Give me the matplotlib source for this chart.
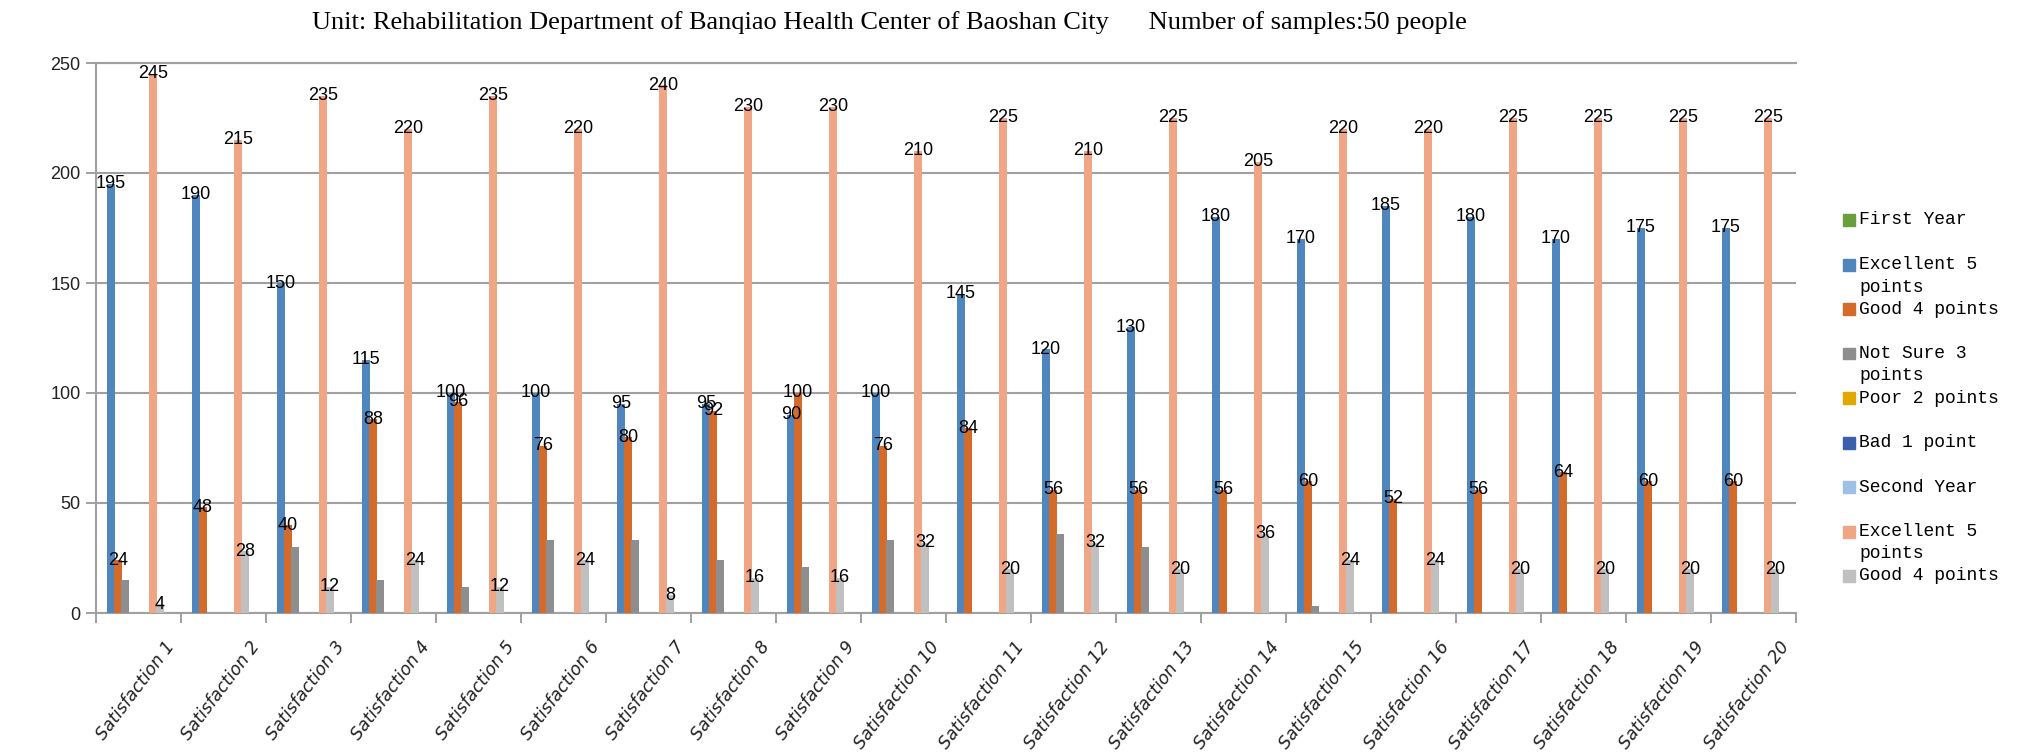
import numpy as np
import matplotlib.pyplot as plt
from matplotlib.patches import Rectangle

# Data
categories = ["Satisfaction 1", "Satisfaction 2", "Satisfaction 3", "Satisfaction 4",
              "Satisfaction 5", "Satisfaction 6", "Satisfaction 7", "Satisfaction 8",
              "Satisfaction 9", "Satisfaction 10", "Satisfaction 11", "Satisfaction 12",
              "Satisfaction 13", "Satisfaction 14", "Satisfaction 15", "Satisfaction 16",
              "Satisfaction 17", "Satisfaction 18", "Satisfaction 19", "Satisfaction 20"]

first_year = [0] * 20
y1_excellent = [195, 190, 150, 115, 100, 100, 95, 95, 90, 100, 145, 120, 130, 180, 170, 185, 180, 170, 175, 175]
y1_good = [24, 48, 40, 88, 96, 76, 80, 92, 100, 76, 84, 56, 56, 56, 60, 52, 56, 64, 60, 60]
y1_not_sure = [15, 0, 30, 15, 12, 33, 33, 24, 21, 33, 0, 36, 30, 0, 3, 0, 0, 0, 0, 0]
y1_poor = [0] * 20
y1_bad = [0] * 20
second_year = [0] * 20
y2_excellent = [245, 215, 235, 220, 235, 220, 240, 230, 230, 210, 225, 210, 225, 205, 220, 220, 225, 225, 225, 225]
y2_good = [4, 28, 12, 24, 12, 24, 8, 16, 16, 32, 20, 32, 20, 36, 24, 24, 20, 20, 20, 20]

series = [first_year, y1_excellent, y1_good, y1_not_sure, y1_poor, y1_bad,
          second_year, y2_excellent, y2_good]
legend_labels = ["First Year", "Excellent 5\npoints", "Good 4 points", "Not Sure 3\npoints",
                 "Poor 2 points", "Bad 1 point", "Second Year", "Excellent 5\npoints", "Good 4 points"]
colors = ["#6a9f3e", "#4f86bd", "#d46b2a", "#8e8e8e", "#e2a800", "#3a5fad",
          "#9dc0e6", "#f0a585", "#c0c0c0"]
labelled = [1, 2, 7, 8]

W, H = 2022, 756
fig = plt.figure(figsize=(W / 100, H / 100), dpi=100)
ax = fig.add_axes([96 / W, 1 - 613 / H, 1700 / W, 550 / H])

x = np.arange(len(categories))
slot = 0.0825
for k, (vals, col) in enumerate(zip(series, colors)):
    pos = x - 0.4075 + slot * k
    ax.bar(pos, vals, width=slot * 1.2, color=col, edgecolor="none", zorder=3)
    if k in labelled:
        for px, v in zip(pos, vals):
            ax.text(px, v, str(v), ha="center", va="center", fontsize=13,
                    family="Liberation Sans", color="black", zorder=5)

ax.set_xlim(-0.5, len(categories) - 0.5)
ax.set_ylim(0, 250)
ax.set_yticks(np.arange(0, 251, 50))
ax.yaxis.grid(True, color="#a0a0a0", lw=1.5, zorder=0)
ax.set_axisbelow(True)

# tick marks on category boundaries, labels as minor ticks
ax.set_xticks(np.arange(-0.5, len(categories)), labels=[])
ax.set_xticks(x + 0.3, minor=True)
ax.set_xticklabels(categories, minor=True, rotation=53, ha="right",
                   rotation_mode="anchor", fontsize=12.5, style="italic",
                   family="DejaVu Sans", color="#222222")
ax.tick_params(axis="x", which="minor", length=0, pad=18)
ax.tick_params(axis="x", which="major", length=7, color="#909090", width=1.2)
ax.tick_params(axis="y", length=7, color="#909090", width=1.2, pad=4,
               labelsize=13, labelcolor="#222222")
for t in ax.get_yticklabels():
    t.set_family("Liberation Sans")

ax.spines["right"].set_visible(False)
for s in ["left", "bottom", "top"]:
    ax.spines[s].set_color("#a0a0a0")
    ax.spines[s].set_linewidth(1.5)

fig.text(889 / W, 1 - 23 / H,
         "Unit: Rehabilitation Department of Banqiao Health Center of Baoshan City"
         "      Number of samples:50 people",
         ha="center", va="center", fontsize=19, family="Liberation Serif")

# legend drawn by hand to mimic the wrapped Excel legend
for i, (lab, col) in enumerate(zip(legend_labels, colors)):
    yc = 220 + 44.5 * i
    fig.add_artist(Rectangle((1843 / W, 1 - (yc + 6) / H), 12 / W, 12 / H,
                             transform=fig.transFigure, color=col))
    for j, line in enumerate(lab.split("\n")):
        fig.text(1859 / W, 1 - (yc + 22.5 * j) / H, line, ha="left", va="center",
                 fontsize=13, family="Liberation Mono")

fig.savefig("out.png", dpi=100)
